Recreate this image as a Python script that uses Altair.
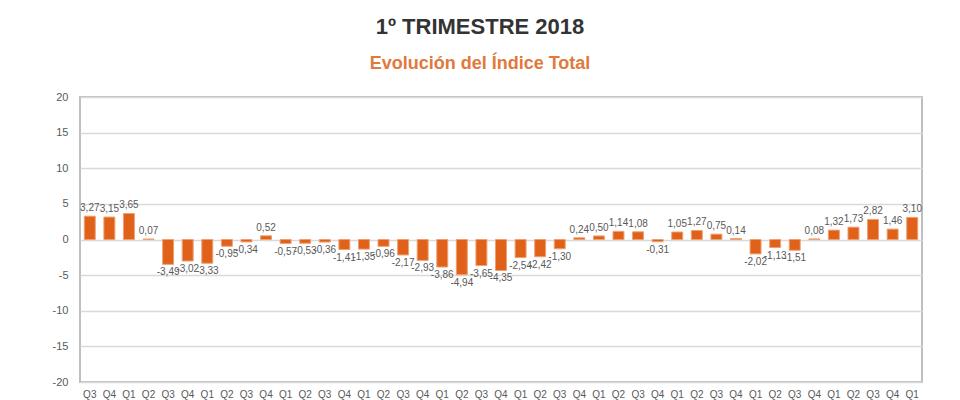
import altair as alt
import pandas as pd

# Categories: quarters from Q3 2007 to Q1 2018
years = list(range(2007, 2019))
periods = []
quarters = []
for yr in years:
    for q in ["Q1", "Q2", "Q3", "Q4"]:
        if (yr == 2007 and q in ("Q1", "Q2")) or (yr == 2018 and q != "Q1"):
            continue
        periods.append(f"{yr}-{q}")
        quarters.append(q)

values = [3.27, 3.15, 3.65, 0.07, -3.49, -3.02, -3.33, -0.95, -0.34, 0.52,
          -0.57, -0.53, -0.36, -1.41, -1.35, -0.96, -2.17, -2.93, -3.86, -4.94,
          -3.65, -4.35, -2.54, -2.42, -1.30, 0.24, 0.50, 1.14, 1.08, -0.31,
          1.05, 1.27, 0.75, 0.14, -2.02, -1.13, -1.51, 0.08, 1.32, 1.73,
          2.82, 1.46, 3.10]

y_ticks = [-20, -15, -10, -5, 0, 5, 10, 15, 20]

df = pd.DataFrame({
    "period": periods,
    "quarter": quarters,
    "value": values,
    "label": [f"{v:.2f}".replace(".", ",") for v in values],
})

FONT = "Liberation Sans"
ORANGE = "#E0611A"
GREY_TXT = "#595959"

x = alt.X(
    "period:O",
    sort=periods,
    scale=alt.Scale(paddingInner=0.44, paddingOuter=0.22),
    axis=alt.Axis(
        title=None, labelExpr="substring(datum.label, 5)", labelAngle=0,
        ticks=False, domain=False, labelFontSize=10, labelColor=GREY_TXT,
        labelPadding=7, grid=False, labelFont=FONT,
    ),
)
y = alt.Y(
    "value:Q",
    scale=alt.Scale(domain=[-20, 20]),
    axis=alt.Axis(
        title=None, values=y_ticks, ticks=False, domain=False,
        labelFontSize=11, labelColor=GREY_TXT, labelPadding=12,
        gridColor="#D9D9D9", gridWidth=1.5, labelFont=FONT,
        labelExpr="replace(datum.label, '\u2212', '-')",
    ),
)

base = alt.Chart(df)

bars = base.mark_bar(color=ORANGE, stroke="#F0A070", strokeWidth=1).encode(x=x, y=y)

pos_labels = base.transform_filter("datum.value >= 0").mark_text(
    baseline="bottom", dy=-3, fontSize=10, color=GREY_TXT, font=FONT
).encode(x=x, y=y, text="label:N")

neg_labels = base.transform_filter("datum.value < 0").mark_text(
    baseline="top", dy=3, fontSize=10, color=GREY_TXT, font=FONT
).encode(x=x, y=y, text="label:N")

chart = alt.layer(bars, pos_labels, neg_labels).properties(
    width=842,
    height=285,
    autosize=alt.AutoSizeParams(type="none"),
    padding={"left": 72, "top": 89, "right": 30, "bottom": 30},
    title=alt.TitleParams(
        text="1º TRIMESTRE 2018",
        subtitle="Evolución del Índice Total",
        anchor="middle",
        dx=-21,
        offset=17,
        font=FONT,
        fontSize=22,
        fontWeight="bold",
        color="#333333",
        subtitleFont=FONT,
        subtitleFontSize=18,
        subtitleFontWeight="bold",
        subtitleColor="#E07A3C",
        subtitlePadding=16,
    ),
).configure_view(stroke="#BFBFBF", strokeWidth=2)

chart.save("out.html", embed_options={"renderer": "svg", "actions": False})
